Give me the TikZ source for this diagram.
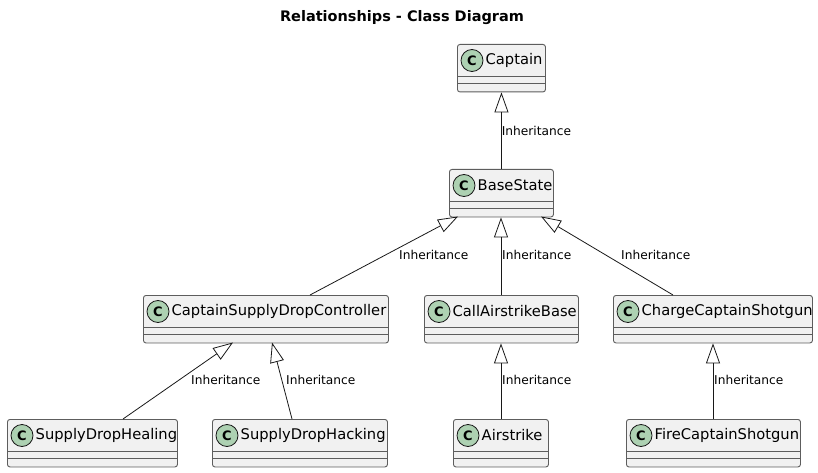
\documentclass[tikz,border=0pt]{standalone}
\usepackage{fontspec}
\setmainfont{DejaVu Sans}
\usetikzlibrary{arrows.meta}
\definecolor{boxfill}{HTML}{F1F1F1}
\definecolor{boxline}{HTML}{181818}
\definecolor{circfill}{HTML}{ADD1B2}
\tikzset{
  clsbox/.style={draw=boxline!70, fill=boxfill, line width=0.9pt, rounded corners=2.5pt, minimum height=47.5pt, inner sep=0pt},
  clsline/.style={draw=boxline!70, line width=0.9pt},
  circ/.style={circle, draw=boxline, fill=circfill, line width=0.8pt, minimum size=22pt, inner sep=0pt, font=\fontsize{13}{13}\selectfont\bfseries},
  clsname/.style={anchor=west, inner sep=0pt, font=\fontsize{14.7}{14.7}\selectfont},
  inh/.style={draw=boxline, line width=0.8pt, -{Triangle[open, length=20pt, width=14pt]}},
  lbl/.style={font=\fontsize{12.2}{12.2}\selectfont, inner sep=0pt, anchor=west},
}
\newcommand\umlcls[5]{%
  \node[clsbox, minimum width=#4pt, anchor=north west] (#1) at (#2,#3) {};
  \draw[clsline] ([yshift=-32pt]#1.north west) -- ([yshift=-32pt]#1.north east);
  \draw[clsline] ([yshift=-39.5pt]#1.north west) -- ([yshift=-39.5pt]#1.north east);
  \node[circ] at ([xshift=15pt,yshift=-16.5pt]#1.north west) {C};
  \node[clsname] at ([xshift=28.5pt,yshift=-16.5pt]#1.north west) {#5};
}
\begin{document}
\begin{tikzpicture}[x=1pt, y=-1pt]
\useasboundingbox (0,0) rectangle (818,473);
\node[font=\fontsize{14.5}{14.5}\selectfont\bfseries] (title) at (402,18) {Relationships - Class Diagram};

\umlcls{cap}{457}{44}{88}{Captain}
\umlcls{base}{449}{169}{104}{BaseState}
\umlcls{csdc}{143}{295}{245}{CaptainSupplyDropController}
\umlcls{cab}{424}{295}{154}{CallAirstrikeBase}
\umlcls{ccs}{613}{295}{199}{ChargeCaptainShotgun}
\umlcls{sdh}{7}{419}{170}{SupplyDropHealing}
\umlcls{sdk}{212}{419}{175}{SupplyDropHacking}
\umlcls{air}{453}{419}{95}{Airstrike}
\umlcls{fcs}{626}{419}{174}{FireCaptainShotgun}

\draw[inh] (base.north) -- (cap.south) node[lbl, pos=0.5] {Inheritance};
\draw[inh] (csdc.north -| 310,0) -- (458,216.5);
\node[lbl] (l1) at (399,255) {Inheritance};
\draw[inh] (cab.north -| 501,0) -- (base.south -| 501,0);
\node[lbl] (l2) at (502,255) {Inheritance};
\draw[inh] (ccs.north -| 673,0) -- (541,216.5);
\node[lbl] (l3) at (621,255) {Inheritance};
\draw[inh] (sdh.north -| 123,0) -- (233,342.5);
\node[lbl] (l4) at (191,380) {Inheritance};
\draw[inh] (sdk.north -| 292,0) -- (272,342.5);
\node[lbl] (l5) at (286,380) {Inheritance};
\draw[inh] (air.north -| 501,0) -- (cab.south -| 501,0);
\node[lbl] (l6) at (502,380) {Inheritance};
\draw[inh] (fcs.north -| 713,0) -- (ccs.south -| 713,0);
\node[lbl] (l7) at (714,380) {Inheritance};
\end{tikzpicture}
\end{document}
